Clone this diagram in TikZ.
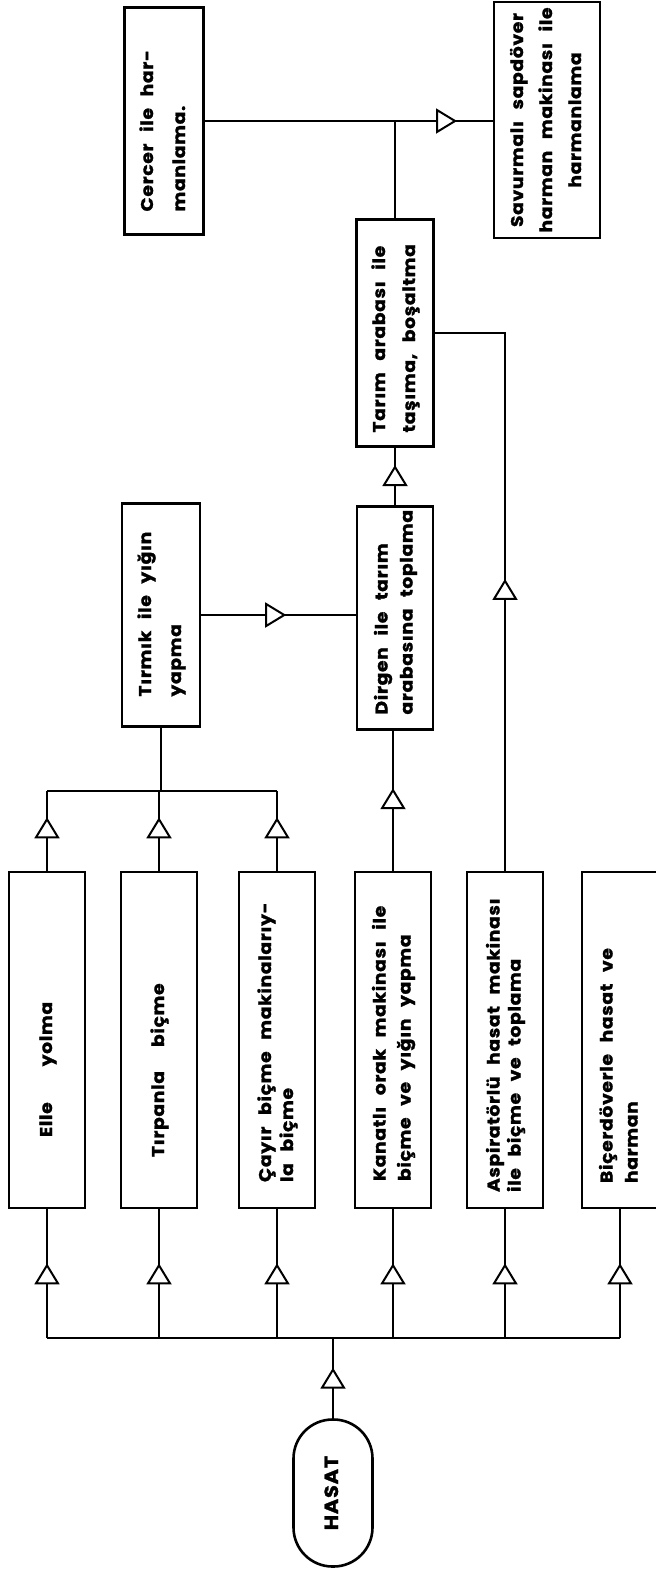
\documentclass[tikz,border=0pt]{standalone}
\usepackage{graphicx}
\usepackage{fontspec}
\setmainfont{Poppins}[FakeStretch=1.1,LetterSpace=4,WordSpace=2.5,BoldFeatures={FakeBold=1.5}]
\usetikzlibrary{arrows.meta,decorations.markings}

\newcommand{\vlines}[3][l]{\rotatebox{90}{\makebox[#2][#1]{\begin{tabular}{@{}#1@{}}#3\end{tabular}}}}

\tikzset{
	stage/.style={draw,line width=2.6pt,inner sep=0pt,minimum width=76pt,font=\bfseries\fontsize{17}{25}\selectfont},
	flowmark/.style={postaction={decorate},decoration={markings,mark=at position #1 with {\arrow{Triangle[fill=white,length=21pt,width=25pt,line width=2pt]}}}},
	flow/.style={line width=2pt}
}

\begin{document}
\begin{tikzpicture}[x=1pt,y=-1pt]
	\useasboundingbox (0,0) rectangle (656,1572);
	\node[stage,minimum height=147pt,minimum width=79pt,rounded corners=39pt,font=\bfseries\fontsize{19}{25}\selectfont] (hasat) at (333,1493) {\vlines[c]{100pt}{HASAT}};
	\node[stage,minimum height=336pt] (elle) at (47,1040) {\vlines{194pt}{Elle\hspace{36pt}yolma}};
	\node[stage,minimum height=336pt] (tirpan) at (159,1040) {\vlines{234pt}{Tırpanla\hspace{24pt}biçme}};
	\node[stage,minimum height=336pt] (cayir) at (277,1040) {\vlines{284pt}{Çayır biçme makinalarıy-\\[-3pt]la biçme}};
	\node[stage,minimum height=336pt] (kanatli) at (393,1040) {\vlines{282pt}{Kanatlı orak makinası ile\\biçme ve yığın yapma}};
	\node[stage,minimum height=336pt] (aspir) at (505,1040) {\vlines{304pt}{Aspiratörlü hasat makinası\\[-4pt]ile biçme ve toplama}};
	\node[stage,minimum height=336pt] (bicer) at (620,1040) {\vlines{286pt}{Biçerdöverle hasat ve\\harman}};
	\node[stage,minimum height=223pt,minimum width=78pt] (tirmik) at (161,615) {\vlines{163pt}{Tırmık ile yığın\\[5pt]yapma}};
	\node[stage,minimum height=223pt] (dirgen) at (395,618) {\vlines{193pt}{Dirgen ile tarım\\arabasına toplama}};
	\node[stage,minimum height=227pt,minimum width=77pt] (tarim) at (395,333) {\vlines{199pt}{Tarım arabası ile\\[5pt]taşıma, boşaltma}};
	\node[stage,minimum height=227pt,minimum width=79pt] (cercer) at (164,121) {\vlines{181pt}{Cercer ile har-\\[7pt]manlama.}};
	\node[stage,minimum height=236pt,minimum width=106pt] (savur) at (547,120) {\vlines[c]{216pt}{Savurmalı sapdöver\\[4pt]harman makinası ile\\[4pt]harmanlama}};
	\coordinate (busL) at (47,1338);
	\coordinate (busR) at (620,1338);
	\coordinate (rakeL) at (47,791);
	\draw[flow] (busL) -- (busR);
	\draw[flow,flowmark=.63] (hasat.north) -- (hasat.north |- busL);
	\foreach \n in {elle,tirpan,cayir,kanatli,aspir,bicer}
		\draw[flow,flowmark=.58] (\n.south |- busL) -- (\n.south);
	\draw[flow] (rakeL) -- (cayir.north |- rakeL);
	\foreach \n in {elle,tirpan,cayir}
		\draw[flow,flowmark=.67] (\n.north) -- (\n.north |- rakeL);
	\draw[flow] (tirmik.south |- rakeL) -- (tirmik.south);
	\draw[flow,flowmark=.55] (tirmik.east) -- (tirmik.east -| dirgen.west);
	\draw[flow,flowmark=.59] (kanatli.north) -- (kanatli.north |- dirgen.south);
	\draw[flow,flowmark=.7] (dirgen.north) -- (tarim.south);
	\draw[flow,flowmark=.48] (aspir.north) |- (tarim.east);
	\coordinate (join) at (tarim.north |- cercer.east);
	\draw[flow] (tarim.north) -- (join);
	\draw[flow,flowmark=.876] (cercer.east) -- (cercer.east -| savur.west);
\end{tikzpicture}
\end{document}
